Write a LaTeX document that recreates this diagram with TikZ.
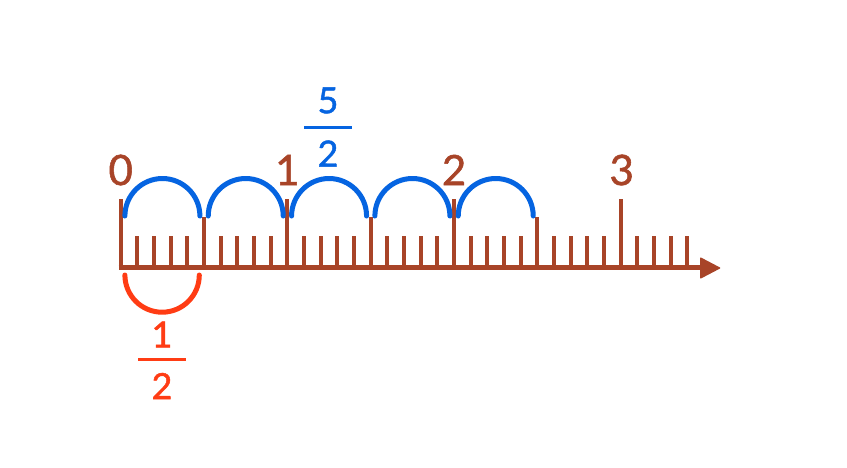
\documentclass[tikz,border=0pt]{standalone}
\usepackage{fontspec}
\setmainfont{Lato}
\newfontfamily\labfont{Lato}[FakeBold=1.3]
\definecolor{brn}{RGB}{168,68,40}
\definecolor{blu}{RGB}{5,100,225}
\definecolor{org}{RGB}{255,60,20}
\tikzset{
  tickline/.style={brn,line width=4pt},
  jump/.style={blu,line width=5pt,line cap=round},
  halfjump/.style={org,line width=5pt,line cap=round},
  lab/.style={brn,inner sep=0pt,font=\labfont\fontsize{42}{42}\selectfont},
  fracnum/.style={inner sep=0pt,font=\labfont\fontsize{36}{36}\selectfont},
}
\begin{document}
\begin{tikzpicture}[x=1pt,y=-1pt]
\useasboundingbox (0,0) rectangle (847,467);
\fill[white] (0,0) rectangle (847,467);
% axis
\draw[brn,line width=5pt] (118.5,267.5) -- (703,267.5);
\fill[brn,rounded corners=1pt] (700,257) -- (721,268) -- (700,279) -- cycle;
% ticks
\foreach \i in {0,...,34} \draw[tickline] ({120.7+16.667*\i},267.5) -- ({120.7+16.667*\i},236);
\foreach \i in {5,15,25} \draw[tickline] ({120.7+16.667*\i},267.5) -- ({120.7+16.667*\i},216.7);
\foreach \i in {0,10,20,30} \draw[tickline] ({120.7+16.667*\i},267.5) -- ({120.7+16.667*\i},199);
% blue jumps
\foreach \k in {0,...,4} \draw[jump] ({120.7+83.333*\k+4.2},216) arc[start angle=180,end angle=360,radius=37.5];
% red jump
\draw[halfjump] (124.9,275) arc[start angle=180,end angle=0,radius=37.2];
% labels
\node[lab] (l0) at (120.7,170) {0};
\node[lab] (l1) at (287.4,170) {1};
\node[lab] (l2) at (454.1,170) {2};
\node[lab] (l3) at (621.7,170) {3};
% fraction 1/2
\node[fracnum,org] (hn) at (162,334.5) {1};
\node[fracnum,org] (hd) at (162,386) {2};
\draw[org,line width=3pt] (138,359.3) -- (186,359.3);
% fraction 5/2
\node[fracnum,blu] (fn) at (328,100.5) {5};
\node[fracnum,blu] (fd) at (328,153.5) {2};
\draw[blu,line width=3pt] (304,127) -- (352,127);
\end{tikzpicture}
\end{document}
